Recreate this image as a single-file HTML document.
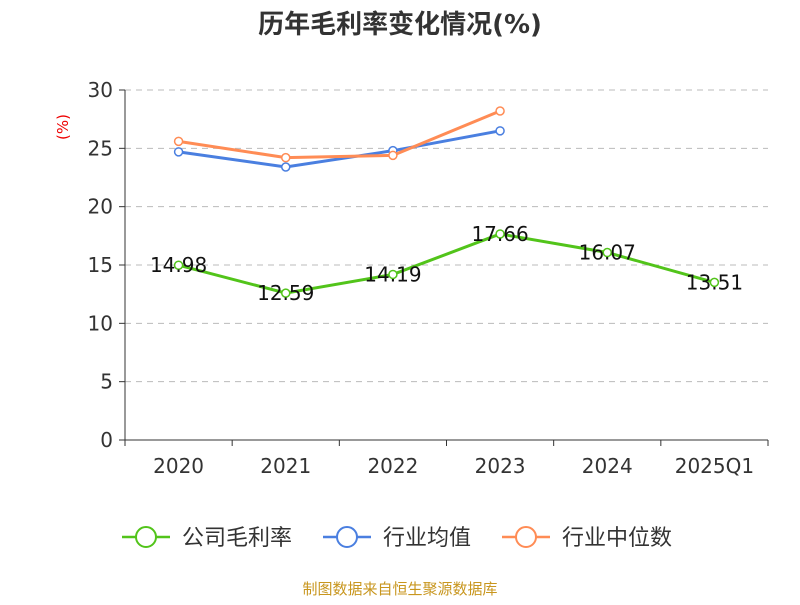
<!DOCTYPE html>
<html><head><meta charset="utf-8"><style>
body{margin:0;background:#fff;}
svg text{font-family:"DejaVu Sans","Noto Sans CJK SC",sans-serif;}
</style></head><body>
<svg id="chart" width="800" height="600" xmlns="http://www.w3.org/2000/svg">
<text x="400" y="33" text-anchor="middle" font-size="26" font-weight="bold" fill="#333">历年毛利率变化情况(%)</text>
<text x="68" y="127" text-anchor="middle" font-size="15" fill="#e00" transform="rotate(-90 68 127)">(%)</text>
<g id="grid"></g><g id="axes"></g><g id="series"></g>
<g>
<g><line x1="122" y1="537" x2="170" y2="537" stroke="#52c41a" stroke-width="2.5"/><circle cx="146" cy="537" r="10" fill="#fff" stroke="#52c41a" stroke-width="2"/><text x="182" y="545" font-size="22" fill="#333">公司毛利率</text></g>
<g><line x1="323" y1="537" x2="371" y2="537" stroke="#4a7fe0" stroke-width="2.5"/><circle cx="347" cy="537" r="10" fill="#fff" stroke="#4a7fe0" stroke-width="2"/><text x="383" y="545" font-size="22" fill="#333">行业均值</text></g>
<g><line x1="502" y1="537" x2="550" y2="537" stroke="#ff8c55" stroke-width="2.5"/><circle cx="526" cy="537" r="10" fill="#fff" stroke="#ff8c55" stroke-width="2"/><text x="562" y="545" font-size="22" fill="#333">行业中位数</text></g>
</g>
<text x="400" y="594" text-anchor="middle" font-size="15" fill="#c8961e">制图数据来自恒生聚源数据库</text>
</svg>
<script>
const categories=["2020","2021","2022","2023","2024","2025Q1"];
const companyValues=[14.98,12.59,14.19,17.66,16.07,13.51];
const industryAvg=[24.7,23.4,24.8,26.5];
const industryMedian=[25.6,24.2,24.4,28.2];
const yTicks=[0,5,10,15,20,25,30];
const NS="http://www.w3.org/2000/svg";
const L=125,R=768,T=90,B=440,yMax=30;
const bw=(R-L)/categories.length;
const xs=i=>L+bw*(i+0.5);
const ys=v=>B-(v/yMax)*(B-T);
function mk(tag,attrs,parent){const e=document.createElementNS(NS,tag);for(const k in attrs)e.setAttribute(k,attrs[k]);parent.appendChild(e);return e;}
const grid=document.getElementById('grid'),axes=document.getElementById('axes'),ser=document.getElementById('series');
yTicks.forEach(t=>{
 if(t>0){const g=mk('line',{x1:L,x2:R,y1:ys(t),y2:ys(t),stroke:'#bbb','stroke-dasharray':'6,5'},grid);
 
 }
 mk('line',{x1:L-6,x2:L,y1:ys(t),y2:ys(t),stroke:'#333'},axes);
 const tx=mk('text',{x:L-12,y:ys(t)+7,'text-anchor':'end','font-size':'20',fill:'#333'},axes);tx.textContent=t;
 
 
});
mk('line',{x1:L,x2:L,y1:T,y2:B,stroke:'#333'},axes);
mk('line',{x1:L,x2:R,y1:B,y2:B,stroke:'#333'},axes);
categories.forEach((c,i)=>{
 mk('line',{x1:L+bw*i,x2:L+bw*i,y1:B,y2:B+6,stroke:'#333'},axes);
 const tx=mk('text',{x:xs(i),y:B+33,'text-anchor':'middle','font-size':'20',fill:'#333'},axes);tx.textContent=c;
 
 
});
mk('line',{x1:R,x2:R,y1:B,y2:B+6,stroke:'#333'},axes);
function drawLine(vals,color,name,labels){
 const g=mk('g',{},ser);
 
 
 mk('polyline',{points:vals.map((v,i)=>xs(i)+','+ys(v)).join(' '),fill:'none',stroke:color,'stroke-width':3},g);
 vals.forEach((v,i)=>{
  const c=mk('circle',{cx:xs(i),cy:ys(v),r:4,fill:'#fff',stroke:color,'stroke-width':1.5},g);
  
  
  if(labels){const t=mk('text',{x:xs(i),y:ys(v)+7,'text-anchor':'middle','font-size':'20',fill:'#111'},g);t.textContent=v.toFixed(2);
  
  }
 });
}
drawLine(industryAvg,'#4a7fe0','industry-average-line',false);
drawLine(industryMedian,'#ff8c55','industry-median-line',false);
drawLine(companyValues,'#52c41a','company-margin-line',true);
</script>
</body></html>
